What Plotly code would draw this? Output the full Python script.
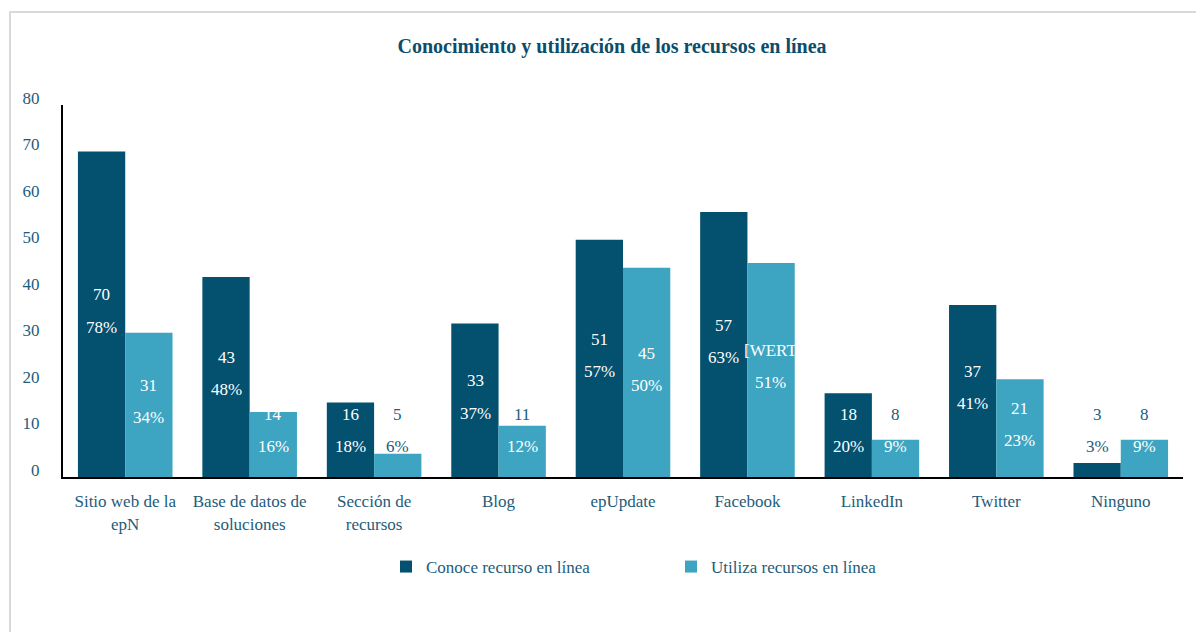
import plotly.graph_objects as go

categories = ["Sitio web de la<br>epN", "Base de datos de<br>soluciones", "Sección de<br>recursos",
              "Blog", "epUpdate", "Facebook", "LinkedIn", "Twitter", "Ninguno"]
conoce = [70, 43, 16, 33, 51, 57, 18, 37, 3]
utiliza = [31, 14, 5, 11, 45, 46, 8, 21, 8]
conoce_pct = ["78%", "48%", "18%", "37%", "57%", "63%", "20%", "41%", "3%"]
utiliza_pct = ["34%", "16%", "6%", "12%", "50%", "51%", "9%", "23%", "9%"]
conoce_lbl = [str(v) for v in conoce]
utiliza_lbl = ["31", "14", "5", "11", "45", "[WERT", "8", "21", "8"]
y_ticks = [0, 10, 20, 30, 40, 50, 60, 70, 80]

DARK = "#03506F"
LIGHT = "#3DA5C1"
TXT = "#1D5C7B"
FONT = "Liberation Serif"

x = list(range(len(categories)))
fig = go.Figure()
fig.add_trace(go.Bar(x=x, y=conoce, name="Conoce recurso en línea", marker_color=DARK,
                     marker_line_width=0))
fig.add_trace(go.Bar(x=x, y=utiliza, name="Utiliza recursos en línea", marker_color=LIGHT,
                     marker_line_width=0))

bw = 0.378
ann = []
for s, (vals, lbls, pcts) in enumerate([(conoce, conoce_lbl, conoce_pct), (utiliza, utiliza_lbl, utiliza_pct)]):
    off = -bw / 2 if s == 0 else bw / 2
    for i, v in enumerate(vals):
        ym = max(v / 2 + 0.7, 10)
        for txt, yy in ((lbls[i], ym + 3.45), (pcts[i], ym - 3.45)):
            col = "white" if yy < v - 0.5 else TXT
            ann.append(dict(x=i + off, y=yy, text=txt, showarrow=False, xref="x", yref="y",
                            font=dict(family=FONT, size=17, color=col)))

# outer frame (page coords: plot area spans x 63..1183, y 105..477)
frame = [dict(type="rect", xref="paper", yref="paper",
              x0=(10 - 63) / 1120, x1=(1215 - 63) / 1120,
              y0=(477 - 645) / 372, y1=(477 - 12) / 372,
              line=dict(color="#D9D9D9", width=2), fillcolor="rgba(0,0,0,0)", layer="below")]

fig.update_layout(
    width=1196, height=624,
    margin=dict(l=55, r=21, t=97, b=155),
    paper_bgcolor="white", plot_bgcolor="white",
    barmode="group", bargap=0.24, bargroupgap=0,
    font=dict(family=FONT, size=16, color=TXT),
    title=dict(text="<b>Conocimiento y utilización de los recursos en línea</b>",
               x=(612 - 8) / 1196, xref="container", xanchor="center",
               y=1 - 38 / 624, yref="container", yanchor="middle",
               font=dict(family=FONT, size=20, color="#0B4D6A")),
    xaxis=dict(tickmode="array", tickvals=x, ticktext=categories, range=[-0.5, len(categories) - 0.5],
               showline=True, linecolor="black", linewidth=2, showgrid=False, ticks="",
               tickfont=dict(family=FONT, size=17, color=TXT), ticklabelstandoff=8),
    yaxis=dict(range=[0, 80], tickvals=y_ticks, showline=True, linecolor="black", linewidth=2,
               showgrid=False, zeroline=False, ticks="", ticklabelstandoff=18, ticklabelshift=-7,
               tickfont=dict(family=FONT, size=17, color=TXT)),
    legend=dict(orientation="h", x=(386 - 63) / 1120, xanchor="left", y=(477 - 567) / 372,
                yanchor="middle", entrywidth=240, entrywidthmode="pixels", itemwidth=30,
                font=dict(family=FONT, size=17, color=TXT)),
    annotations=ann,
    shapes=frame,
    showlegend=True,
)

fig.write_html("out.html")
